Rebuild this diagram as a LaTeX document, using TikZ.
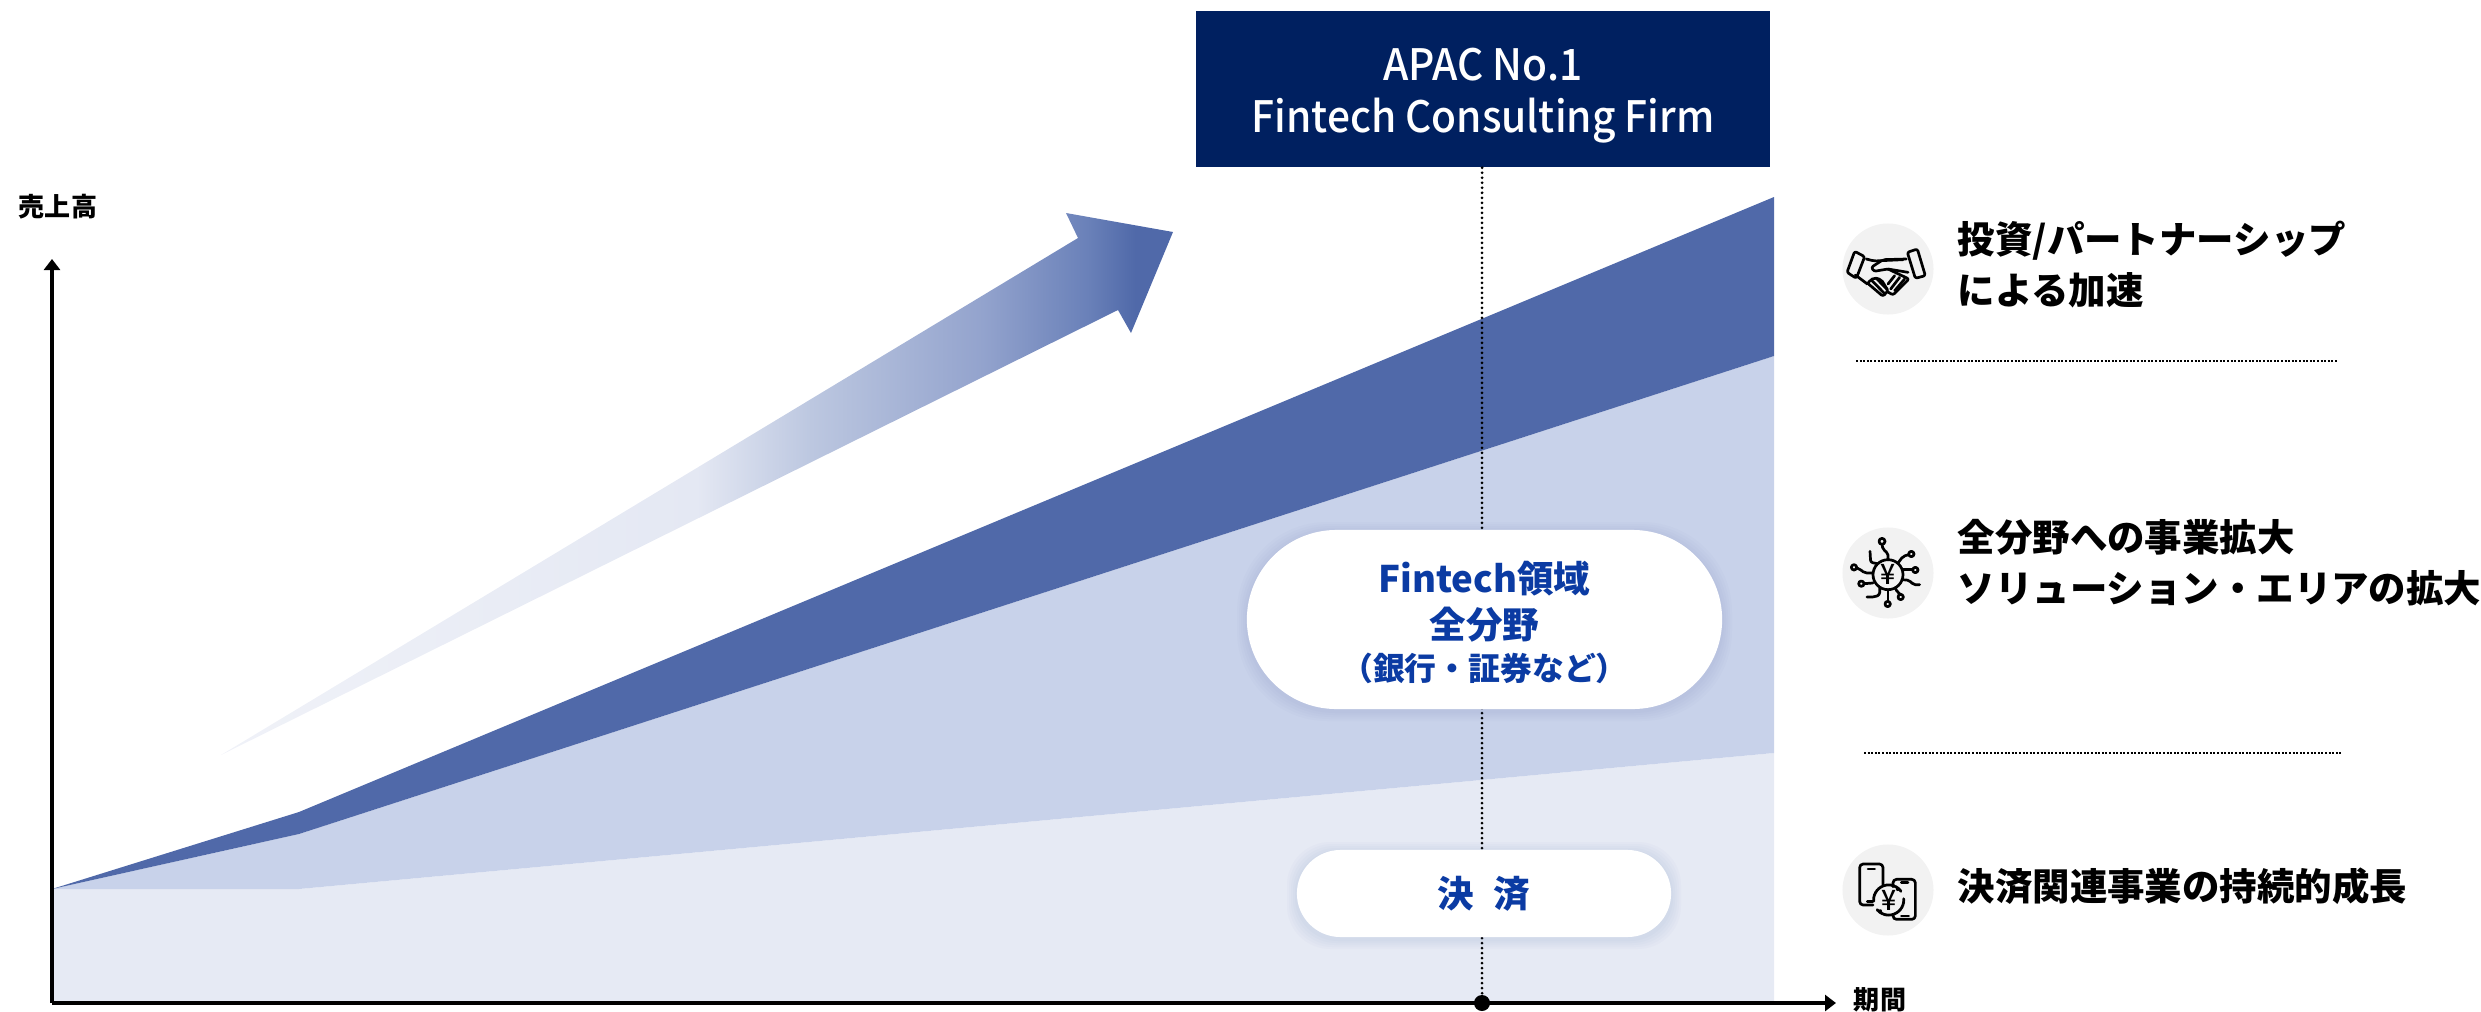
\documentclass[tikz,border=0pt]{standalone}
\usepackage{fontspec}
\setmainfont{Noto Sans CJK JP}
\newfontfamily\boxfont[FakeStretch=0.94]{Noto Sans CJK JP Medium}
\newfontfamily\pillfont{Noto Sans CJK JP Medium}
\usetikzlibrary{arrows.meta,shapes.misc}
\definecolor{navyfill}{HTML}{002060}
\definecolor{darkband}{HTML}{5069A9}
\definecolor{midband}{HTML}{C8D2EA}
\definecolor{lightband}{HTML}{E6EAF4}
\definecolor{pilltext}{HTML}{0B3BA3}
\definecolor{iconback}{HTML}{F2F2F2}
\definecolor{fadeA}{HTML}{F0F2F8}
\definecolor{fadeB}{HTML}{E4E8F3}
\definecolor{fadeC}{HTML}{BCC7E0}
\definecolor{fadeD}{HTML}{93A3CD}
\definecolor{fadeE}{HTML}{6A81B9}
\pgfdeclarehorizontalshading{arrowfade}{100bp}{
    color(0bp)=(fadeA);
    color(25bp)=(fadeA);
    color(50bp)=(fadeB);
    color(56bp)=(fadeC);
    color(65bp)=(fadeD);
    color(70.5bp)=(fadeE);
    color(73bp)=(darkband);
    color(100bp)=(darkband)}
\tikzset{
axisline/.style=
    {line width=3.2*0.28453pt,
    -{Triangle[width=16*0.28453pt,length=11*0.28453pt]}
    },
guideline/.style=
    {line width=3*0.28453pt,
    line cap=round,
    dash pattern=on 0pt off 5*0.28453pt
    },
sideline/.style=
    {line width=1.1*0.28453pt,
    dash pattern=on 2*0.28453pt off 1.6*0.28453pt
    },
topbox/.style=
    {fill=navyfill,
    text=white,
    minimum width=5.74cm,
    minimum height=1.56cm,
    align=center,
    inner sep=0pt,
    font=\boxfont\fontsize{12.3pt}{14.8pt}\selectfont
    },
pill/.style=
    {fill=white,
    rounded rectangle,
    inner sep=0pt,
    align=center,
    text=pilltext,
    font=\bfseries\fontsize{10.4pt}{13pt}\selectfont
    },
pillshade/.style=
    {fill=darkband,
    fill opacity=0.025
    },
sidetext/.style=
    {anchor=west,
    inner sep=0pt,
    align=left,
    font=\bfseries\fontsize{10.65pt}{14.5pt}\selectfont
    },
axistext/.style=
    {inner sep=0pt,
    font=\bfseries\fontsize{7.4pt}{9pt}\selectfont
    },
iconback/.style=
    {circle,
    fill=iconback,
    minimum size=0.91cm,
    inner sep=0pt
    },
iconline/.style=
    {line width=2.7*0.28453pt,
    line join=round,
    line cap=round,
    rounded corners=0.6pt
    },
yentext/.style=
    {inner sep=0pt,
    font=\boxfont\fontsize{8pt}{8pt}\selectfont
    }
}

\begin{document}
\begin{tikzpicture}[x=0.01cm,y=-0.01cm]
\useasboundingbox (0,0) rectangle (2481,1012);

\fill[lightband] (52,889) -- (299,889) -- (1774,753) -- (1774,1003) -- (52,1003) -- cycle;
\fill[midband] (52,889) -- (299,834) -- (1774,356) -- (1774,753) -- (299,889) -- cycle;
\fill[darkband] (52,889) -- (299,812) -- (1774,197) -- (1774,356) -- (299,834) -- cycle;
\shade[shading=arrowfade] (221,755) -- (1078,238) -- (1066,213) -- (1173,232) -- (1131,333) -- (1118,310) -- cycle;

\coordinate (origin) at (52,1003);
\coordinate (ytop) at (52,259);
\coordinate (xend) at (1836,1003);
\node[circle,fill=black,minimum size=0.16cm,inner sep=0pt] (mark) at (1482,1003) {};
\node[topbox] (firm) at (1483,89) {\rule{0pt}{13pt}APAC No.1\\Fintech Consulting Firm};
\draw[guideline] (firm.south -| mark) -- (mark);
\draw[axisline] (origin) -- (ytop);
\draw[axisline] (origin) -- (xend);
\node[axistext] (ylabel) at (58,207) {売上高};
\node[axistext] (xlabel) at (1880,1000) {期間};

\foreach \s in {10,8,6,4,2}{
  \fill[pillshade,rounded corners=0.9cm] ({1247-\s},{530-\s+2}) rectangle ({1722+\s},{709+\s+2});
  \fill[pillshade,rounded corners=0.43cm] ({1297-\s},{850-\s+2}) rectangle ({1671+\s},{937+\s+2});
}
\node[pill,minimum width=4.75cm,minimum height=1.79cm] (fieldpill) at (1484.5,619.5)
    {\rule{0pt}{10.5pt}Fintech領域\\全分野\\[-1pt]{\pillfont\fontsize{9.05pt}{11pt}\selectfont （銀行・証券など）}};
\node[pill,minimum width=3.74cm,minimum height=0.87cm] (paypill) at (1484,893.5) {\rule{0pt}{9pt}決\hspace{3pt} 済};

\coordinate (linea) at (1856,361);
\coordinate (lineb) at (2337,361);
\coordinate (linec) at (1864,753);
\coordinate (lined) at (2343,753);
\draw[sideline] (linea) -- (lineb);
\draw[sideline] (linec) -- (lined);

\node[sidetext] (invest) at (1957,265) {投資/パートナーシップ\\による加速};
\node[sidetext] (expand) at (1957,563) {全分野への事業拡大\\ソリューション・エリアの拡大};
\node[sidetext] (growth) at (1957,886) {決済関連事業の持続的成長};

\node[iconback] (handback) at (1888,269) {};
\node[iconback] (chipback) at (1888,573) {};
\node[iconback] (phoneback) at (1888,890) {};

\begin{scope}[shift={(1838,219)},scale=1/3,iconline]
\draw (50,97) -- (80,113) -- (55,178) -- (27,160) -- cycle;
\draw (238,90) -- (262,170) -- (232,178) -- (208,100) -- cycle;
\draw (85,120) -- (108,126) -- (195,122);
\draw (205,120) -- (135,122) -- (100,145) -- (108,157) -- (150,150) -- (210,160);
\draw (52,168) -- (88,195);
\draw (88,192) -- (108,176) -- (130,182) -- (150,215) -- (135,232) -- cycle;
\draw (150,150) -- (213,180) -- (165,228) -- (148,218);
\draw (100,183) -- (138,222);
\draw (115,178) -- (148,212);
\draw (170,170) -- (150,195);
\draw (185,175) -- (158,210);
\draw (200,180) -- (170,215);
\end{scope}

\begin{scope}[shift={(1838,523)},scale=1/3,iconline]
\draw (150,155) circle (45);
\draw (150,110) -- (150,90) -- (135,80) -- (132,64);
\draw (132,55) circle (9);
\draw (180,120) -- (195,100) -- (212,95);
\draw (220,93) circle (8);
\draw (195,140) -- (223,140);
\draw (232,141) circle (8);
\draw (192,170) -- (215,172) -- (225,185) -- (245,185);
\draw (172,195) -- (178,208) -- (188,214);
\draw (188,222) circle (8);
\draw (150,200) -- (150,235);
\draw (149,243) circle (8);
\draw (125,195) -- (125,215) -- (110,222) -- (87,222);
\draw (105,180) -- (79,182);
\draw (70,182) circle (8);
\draw (103,150) -- (80,150) -- (65,138) -- (56,135);
\draw (48,133) circle (8);
\draw (118,122) -- (98,118) -- (96,85);
\node[yentext] (chipyen) at (150,155) {¥};
\end{scope}

\begin{scope}[shift={(1838,840)},scale=1/3,iconline]
\draw[rounded corners=1pt] (135,135) -- (135,72) -- (65,72) -- (65,195) -- (105,195);
\draw[rounded corners=1pt] (165,140) -- (165,118) -- (232,118) -- (232,238) -- (165,238) -- (165,225);
\draw (90,87) -- (110,87);
\draw (88,185) -- (104,185);
\draw (190,127) -- (210,127);
\draw (190,228) -- (212,228);
\draw plot[smooth,domain=175:325,samples=16] ({152+45*cos(\x)},{180+45*sin(\x)});
\draw plot[smooth,domain=-5:140,samples=16] ({152+45*cos(\x)},{180+45*sin(\x)});
\fill (172,140) -- (190,146) -- (176,156) -- cycle;
\fill (134,222) -- (116,214) -- (130,205) -- cycle;
\node[yentext] (phoneyen) at (152,180) {¥};
\end{scope}
\end{tikzpicture}
\end{document}
